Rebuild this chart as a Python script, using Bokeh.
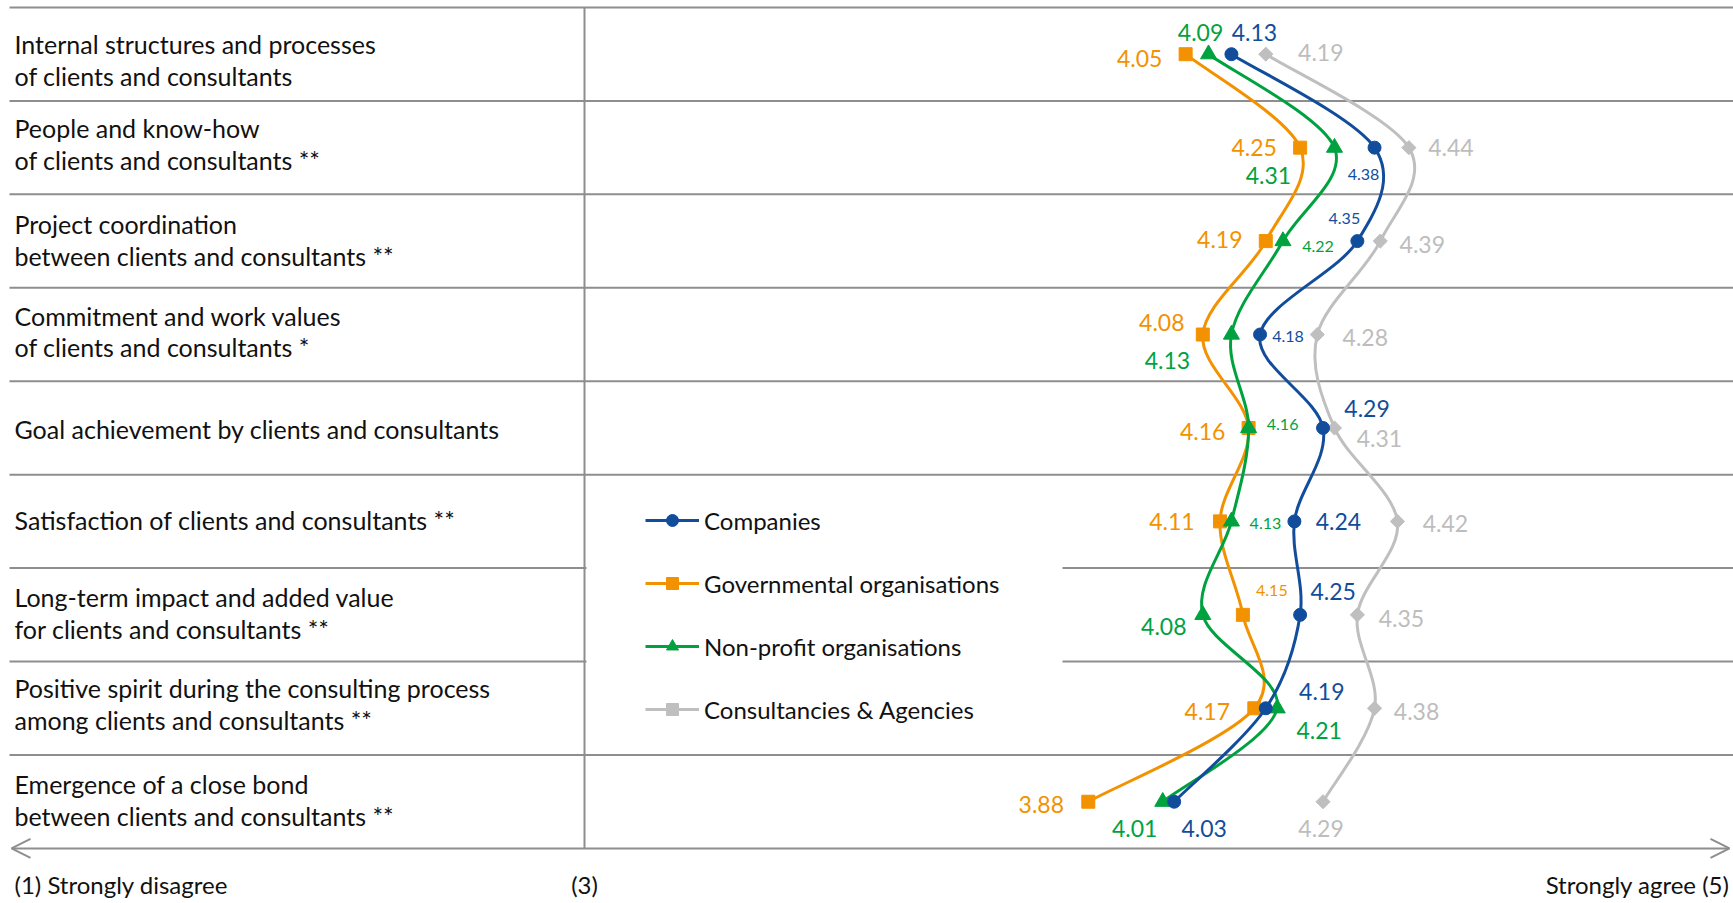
import numpy as np
from bokeh.plotting import figure
from bokeh.models import Range1d, Legend, LegendItem, Arrow, OpenHead, ColumnDataSource
from bokeh.core.properties import value
from bokeh.embed import file_html
from bokeh.resources import INLINE

# ---------------- data ----------------
categories = [
    "Internal structures and processes\nof clients and consultants",
    "People and know-how\nof clients and consultants **",
    "Project coordination\nbetween clients and consultants **",
    "Commitment and work values\nof clients and consultants *",
    "Goal achievement by clients and consultants",
    "Satisfaction of clients and consultants **",
    "Long-term impact and added value\nfor clients and consultants **",
    "Positive spirit during the consulting process\namong clients and consultants **",
    "Emergence of a close bond\nbetween clients and consultants **",
]
companies = [4.13, 4.38, 4.35, 4.18, 4.29, 4.24, 4.25, 4.19, 4.03]
governmental = [4.05, 4.25, 4.19, 4.08, 4.16, 4.11, 4.15, 4.17, 3.88]
nonprofit = [4.09, 4.31, 4.22, 4.13, 4.16, 4.13, 4.08, 4.21, 4.01]
consultancies = [4.19, 4.44, 4.39, 4.28, 4.31, 4.42, 4.35, 4.38, 4.29]
series_names = ["Companies", "Governmental organisations",
                "Non-profit organisations", "Consultancies & Agencies"]
scale_labels = ["(1) Strongly disagree", "(3)", "Strongly agree (5)"]
scale_mid = 3
scale_max = 5

# ---------------- layout / style ----------------
W, H = 1733, 903
K = 572.5            # px per scale unit
X3PX = 584.0         # pixel position of scale value 3
R = 93.44            # px per row
ROW0PX = 53.7        # pixel position of the first row centre
xs = scale_mid - X3PX / K
xe = xs + W / K
ytop = -ROW0PX / R
ybot = ytop + H / R

BLUE, ORANGE, GREEN, GRAY = "#124D9C", "#F39200", "#00A23F", "#BFBFBF"
LINEGRAY = "#8E8E8E"
TEXT = "#111111"
FONT = "Lato"
SIZES = {"L": "23px", "S": "16px"}

# label offsets (dx px, dy px, size) per series, per row
offs_companies = [(23, -22, "L"), (-11, 27, "S"), (-13, -23, "S"), (28, 2, "S"), (44, -19, "L"),
                  (44, 0, "L"), (33, -23, "L"), (56, -17, "L"), (30, 27, "L")]
offs_governmental = [(-46, 4, "L"), (-46, 0, "L"), (-46, -2, "L"), (-41, -12, "L"), (-46, 4, "L"),
                     (-48, 0, "L"), (29, -24, "S"), (-47, 3, "L"), (-47, 3, "L")]
offs_nonprofit = [(-8, -22, "L"), (-66, 28, "L"), (35, 5, "S"), (-64, 26, "L"), (34, -3, "S"),
                  (34, 2, "S"), (-39, 12, "L"), (42, 22, "L"), (-28, 27, "L")]
offs_consult = [(55, -2, "L"), (42, 0, "L"), (42, 3, "L"), (48, 3, "L"), (45, 11, "L"),
                (48, 2, "L"), (44, 4, "L"), (42, 3, "L"), (-2, 27, "L")]
cat_dy = [6, -4, -1, -3, 1, -1, -2, -4, -2]

p = figure(width=W, height=H, x_range=Range1d(xs, xe), y_range=Range1d(ybot, ytop),
           output_backend="svg", toolbar_location=None, min_border=0,
           x_axis_type=None, y_axis_type=None, outline_line_color=None,
           background_fill_color="white", border_fill_color="white")

n = len(categories)
rows = np.arange(n, dtype=float)

# horizontal separators
sep_y = np.arange(n) - 0.5
p.segment(x0=[xs + 9 / K] * n, x1=[xe] * n, y0=sep_y, y1=sep_y, line_color=LINEGRAY, line_width=2)
# vertical line at scale midpoint
p.segment(x0=[scale_mid], x1=[scale_mid], y0=[-0.5], y1=[n - 0.5], line_color=LINEGRAY, line_width=2)
# bottom double arrow
p.add_layout(Arrow(x_start=xs + 11 / K, y_start=n - 0.5, x_end=scale_max, y_end=n - 0.5,
                   line_color=LINEGRAY, line_width=2,
                   start=OpenHead(size=19, line_color=LINEGRAY, line_width=2),
                   end=OpenHead(size=19, line_color=LINEGRAY, line_width=2)))

# white legend background
p.quad(left=[scale_mid + 2 / K], right=[scale_mid + 478 / K], bottom=[7.398], top=[4.562],
       fill_color="white", line_color=None)

# category labels
p.text(x=[xs + 14 / K] * n, y=rows + np.array(cat_dy) / R, text=categories,
       text_font=value(FONT), text_font_size="25px", text_color=TEXT,
       text_align="left", text_baseline="middle", text_line_height=1.06)

# scale labels
by = n - 0.5 + 36 / R
p.text(x=[xs + 14 / K], y=[by], text=[scale_labels[0]], text_font=value(FONT), text_font_size="24px",
       text_color=TEXT, text_align="left", text_baseline="middle")
p.text(x=[scale_mid], y=[by], text=[scale_labels[1]], text_font=value(FONT), text_font_size="24px",
       text_color=TEXT, text_align="center", text_baseline="middle")
p.text(x=[scale_max], y=[by], text=[scale_labels[2]], text_font=value(FONT), text_font_size="24px",
       text_color=TEXT, text_align="right", text_baseline="middle")


def bezier_parts(vals):
    P = np.asarray(vals, float)
    m = len(P)
    Y = np.arange(m, dtype=float)
    eP = np.concatenate([[P[0]], P, [P[-1]]])
    eY = np.concatenate([[Y[0]], Y, [Y[-1]]])
    return dict(
        x0=P[:-1], y0=Y[:-1], x1=P[1:], y1=Y[1:],
        cx0=P[:-1] + (eP[2:m + 1] - eP[0:m - 1]) / 6, cy0=Y[:-1] + (eY[2:m + 1] - eY[0:m - 1]) / 6,
        cx1=P[1:] - (eP[3:m + 2] - eP[1:m]) / 6, cy1=Y[1:] - (eY[3:m + 2] - eY[1:m]) / 6,
    )


series = [
    # name, values, color, marker, size, angle, label colour, offsets
    (series_names[3], consultancies, GRAY, "square", 10, np.pi / 4, "#BDBDBD", offs_consult),
    (series_names[1], governmental, ORANGE, "square", 13, 0, ORANGE, offs_governmental),
    (series_names[2], nonprofit, GREEN, "triangle", 16, 0, GREEN, offs_nonprofit),
    (series_names[0], companies, BLUE, "circle", 13, 0, BLUE, offs_companies),
]

legend_parts = {}
for name, vals, col, mk, sz, ang, lcol, offs in series:
    p.bezier(source=ColumnDataSource(bezier_parts(vals)), x0="x0", y0="y0", x1="x1", y1="y1",
             cx0="cx0", cy0="cy0", cx1="cx1", cy1="cy1", line_color=col, line_width=3)
    sc = p.scatter(x=vals, y=rows, marker=mk, size=sz, angle=ang, fill_color=col, line_color=col)
    ln = p.line(x=[np.nan, np.nan], y=[np.nan, np.nan], line_color=col, line_width=3)
    legend_parts[name] = [ln, sc]
    for sizekey in ("L", "S"):
        idx = [i for i in range(n) if offs[i][2] == sizekey]
        if not idx:
            continue
        p.text(x=[vals[i] + offs[i][0] / K for i in idx],
               y=[i + offs[i][1] / R for i in idx],
               text=[f"{vals[i]:.2f}" for i in idx],
               text_font=value(FONT), text_font_size=SIZES[sizekey], text_color=lcol,
               text_align="center", text_baseline="middle")

legend = Legend(items=[LegendItem(label=nm, renderers=legend_parts[nm]) for nm in series_names],
                location=(645, 179), orientation="vertical", glyph_width=54, glyph_height=30,
                label_height=30, spacing=33, padding=0, margin=0, label_standoff=5,
                background_fill_alpha=0, border_line_alpha=0,
                label_text_font=FONT, label_text_font_size="24px", label_text_color=TEXT)
p.add_layout(legend)

open("out.html", "w").write(file_html(p, INLINE))
